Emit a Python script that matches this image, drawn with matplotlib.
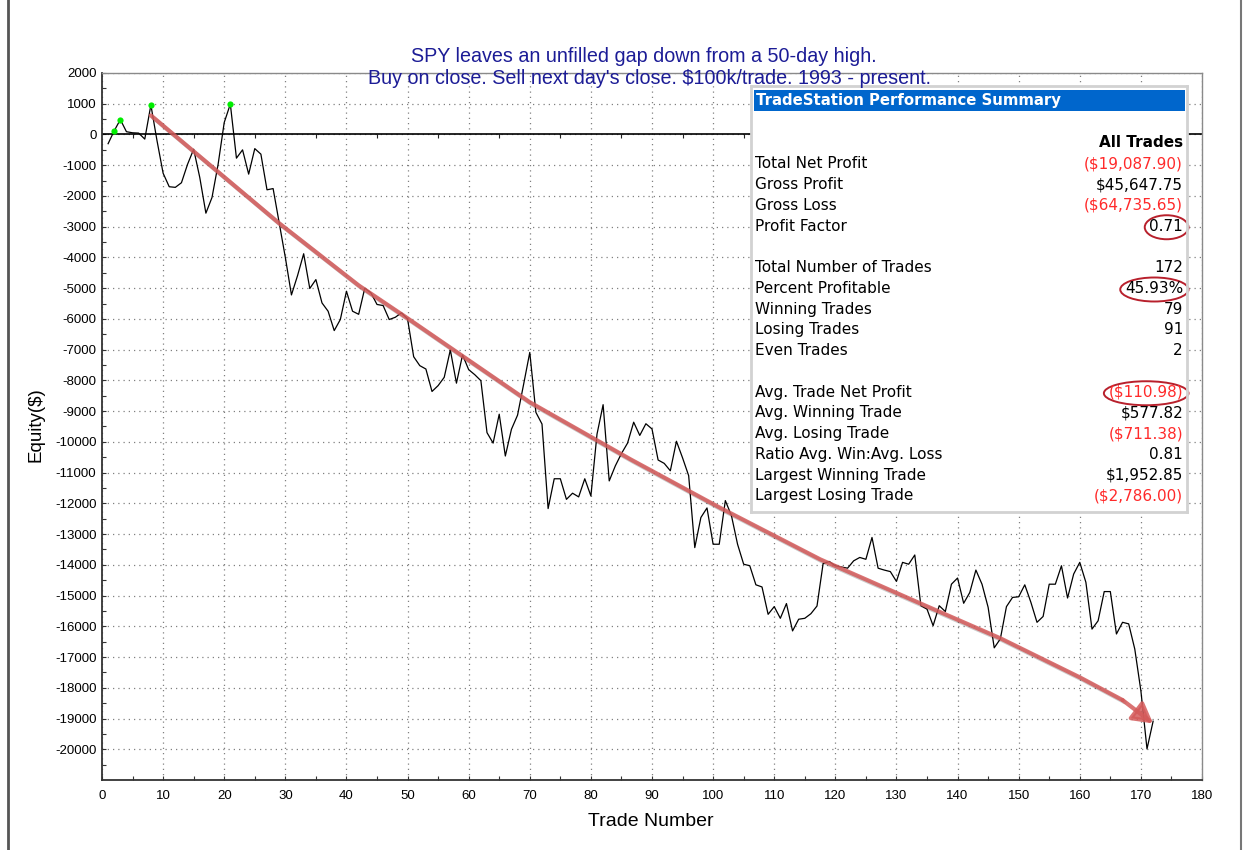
import numpy as np
import matplotlib
matplotlib.use('Agg')
import matplotlib.pyplot as plt
import matplotlib.patheffects as pe
from matplotlib.patches import Rectangle, Ellipse
from matplotlib.lines import Line2D

# equity after each trade
equity = [
    -300, 120, 485, 90, 55, 45, -150, 960, -200, -1260,
    -1700, -1720, -1570, -970, -480, -1400, -2560, -2050, -970, 390,
    990, -770, -500, -1290, -460, -640, -1800, -1760, -2870, -4000,
    -5220, -4590, -3880, -5010, -4720, -5480, -5750, -6380, -6020, -5100,
    -5750, -5850, -5000, -5150, -5530, -5565, -6020, -5946, -5800, -6000,
    -7230, -7520, -7630, -8360, -8170, -7900, -7010, -8090, -7170, -7650,
    -7815, -8010, -9700, -10040, -9100, -10460, -9590, -9130, -8120, -7090,
    -9040, -9420, -12170, -11200, -11200, -11870, -11670, -11790, -11200, -11760,
    -9750, -8790, -11270, -10780, -10380, -10040, -9360, -9790, -9410, -9580,
    -10590, -10700, -10940, -9980, -10520, -11100, -13440, -12460, -12150, -13330,
    -13330, -11910, -12400, -13330, -13980, -14030, -14650, -14720, -15610, -15360,
    -15740, -15260, -16150, -15770, -15740, -15590, -15340, -13960, -13890, -14030,
    -14070, -14110, -13870, -13760, -13820, -13110, -14110, -14170, -14220, -14540,
    -13920, -13980, -13680, -15330, -15440, -15980, -15330, -15520, -14630, -14430,
    -15250, -14900, -14170, -14630, -15380, -16700, -16410, -15360, -15060, -15040,
    -14650, -15220, -15870, -15680, -14630, -14630, -14030, -15080, -14300, -13920,
    -14570, -16090, -15820, -14870, -14870, -16250, -15870, -15920, -16740, -18100,
    -19990, -19088,
]
trade_num = np.arange(1, len(equity) + 1)

title_lines = ["SPY leaves an unfilled gap down from a 50-day high.",
               "Buy on close. Sell next day's close. $100k/trade. 1993 - present."]

summary_labels = ["Total Net Profit", "Gross Profit", "Gross Loss", "Profit Factor", "",
                  "Total Number of Trades", "Percent Profitable", "Winning Trades",
                  "Losing Trades", "Even Trades", "",
                  "Avg. Trade Net Profit", "Avg. Winning Trade", "Avg. Losing Trade",
                  "Ratio Avg. Win:Avg. Loss", "Largest Winning Trade", "Largest Losing Trade"]
summary_values = ["($19,087.90)", "$45,647.75", "($64,735.65)", "0.71", "",
                  "172", "45.93%", "79", "91", "2", "",
                  "($110.98)", "$577.82", "($711.38)", "0.81", "$1,952.85", "($2,786.00)"]
circled = ["0.71", "45.93%", "($110.98)"]

# hand drawn trend arrow (annotation), in trade / equity units
arrow_t = [8, 29, 42, 50, 70, 86.5, 101, 117.5, 133.5, 147, 160, 167, 172]
arrow_v = [620, -2890, -4910, -5980, -8710, -10570, -12130, -13820, -15220, -16390, -17660, -18400, -19160]

W, H = 1250, 850


def fx(px):
    return px / W


def fy(py):
    return 1 - py / H


fig = plt.figure(figsize=(12.5, 8.5), dpi=100)
fig.patch.set_facecolor('white')

ax = fig.add_axes([fx(102), fy(780), (1202 - 102) / W, (780 - 73) / H])
ax.set_xlim(0, 180)
ax.set_ylim(-21000, 2000)

ax.set_xticks(np.arange(0, 181, 10))
ax.set_yticks(np.arange(-20000, 2001, 1000))
ax.set_yticks(np.arange(-20500, 2001, 500), minor=True)
ax.set_xticks(np.arange(5, 181, 10), minor=True)
tick_font = dict(family='Liberation Sans', size=9.5)
ax.set_xticklabels([str(v) for v in range(0, 181, 10)], fontdict=tick_font)
ax.set_yticklabels([str(v) for v in range(-20000, 2001, 1000)], fontdict=tick_font)
ax.tick_params(which='both', direction='in', length=3, width=0.8, color='#333', pad=4)
ax.tick_params(axis='x', pad=7)

ax.grid(which='major', color='#808080', linestyle=(0, (1, 3.2)), linewidth=0.9)
ax.axhline(0, color='black', lw=1.2, zorder=2)

for s in ['left', 'bottom']:
    ax.spines[s].set_color('#333333')
    ax.spines[s].set_linewidth(1.3)
for s in ['top', 'right']:
    ax.spines[s].set_color('#8a8a8a')
    ax.spines[s].set_linewidth(1.0)

# small ticks along the zero line
zero_pos = (0 - ax.get_ylim()[0]) / (ax.get_ylim()[1] - ax.get_ylim()[0])
sec = ax.secondary_xaxis(zero_pos)
sec.set_xticks(np.arange(5, 181, 10))
sec.set_xticklabels([])
sec.tick_params(direction='in', length=3, width=0.8, color='#222')
sec.spines['top'].set_visible(False)
sec.spines['bottom'].set_visible(False)

ax.plot(trade_num, equity, color='black', lw=0.9, zorder=3)

eq = np.array(equity)
prev_max = np.maximum.accumulate(np.concatenate([[0], eq[:-1]]))
highs = eq > prev_max
ax.scatter(trade_num[highs], eq[highs], s=20, color='#00ee00', zorder=4, linewidths=0)

# trend arrow: body + head
arrow_color = '#d45a5a'
ax.plot(arrow_t[:-1], arrow_v[:-1], color=arrow_color, lw=3, alpha=0.85,
        solid_joinstyle='round', solid_capstyle='round', zorder=5,
        path_effects=[pe.SimpleLineShadow(offset=(1.5, -1.5), alpha=0.2), pe.Normal()])
ax.annotate('', xy=(arrow_t[-1], arrow_v[-1]), xytext=(arrow_t[-2], arrow_v[-2]),
            arrowprops=dict(arrowstyle='-|>,head_length=0.8,head_width=0.45',
                            mutation_scale=15, color=arrow_color, lw=3, alpha=0.85,
                            shrinkA=0, shrinkB=0),
            zorder=5)

# titles and axis labels
title_color = '#1c1c96'
fig.text(0.515, fy(57), title_lines[0], color=title_color, fontsize=14.2,
         family='Liberation Sans', ha='center', va='center')
fig.text(0.52, fy(79), title_lines[1], color=title_color, fontsize=14.2,
         family='Liberation Sans', ha='center', va='center')
fig.text(fx(36), fy(425), 'Equity($)', rotation=90, fontsize=13.5,
         family='Liberation Sans', ha='center', va='center')
fig.text(fx(651), fy(821), 'Trade Number', fontsize=14,
         family='Liberation Sans', ha='center', va='center')

# outer frame lines of the window
fig.add_artist(Line2D([fx(8), fx(8)], [0, 1], color='#555555', lw=2, transform=fig.transFigure))
fig.add_artist(Line2D([fx(1241), fx(1241)], [0, 1], color='#777777', lw=1.5, transform=fig.transFigure))

# performance summary box
box = fig.add_axes([fx(751), fy(512), 436 / W, 426 / H])
box.set_xlim(751, 1187)
box.set_ylim(512, 86)
box.set_xticks([])
box.set_yticks([])
box.set_facecolor('white')
for s in box.spines.values():
    s.set_color('#d2d2d2')
    s.set_linewidth(2)

box.add_patch(Rectangle((754, 90), 431, 21.5, color='#0066cc', lw=0))
box.text(756, 101, 'TradeStation Performance Summary', color='white', fontsize=10.7,
         fontweight='bold', family='DejaVu Sans', ha='left', va='center')
box.text(1183, 143, 'All Trades', fontsize=11, fontweight='bold',
         family='DejaVu Sans', ha='right', va='center')

circled_texts = []
row_y = 164
for label, value in zip(summary_labels, summary_values):
    if label:
        box.text(755, row_y, label, fontsize=11, family='DejaVu Sans',
                 ha='left', va='center', color='black')
        col = '#ff2a2a' if value.startswith('(') else 'black'
        t = box.text(1183, row_y, value, fontsize=11, family='DejaVu Sans',
                     ha='right', va='center', color=col)
        if value in circled:
            circled_texts.append((t, row_y))
    row_y += 20.75

# red ellipses around the highlighted numbers, sized from the drawn text
fig.canvas.draw()
inv = box.transData.inverted()
for t, yc in circled_texts:
    bb = t.get_window_extent()
    (x0, _), (x1, _) = inv.transform([[bb.x0, bb.y0], [bb.x1, bb.y1]])
    box.add_patch(Ellipse(((x0 + x1) / 2 + 0.5, yc + 1), (x1 - x0) + 10, 24, fill=False,
                          edgecolor='#b8202c', lw=1.4, clip_on=False))

fig.savefig('out.png', dpi=100, facecolor='white')
